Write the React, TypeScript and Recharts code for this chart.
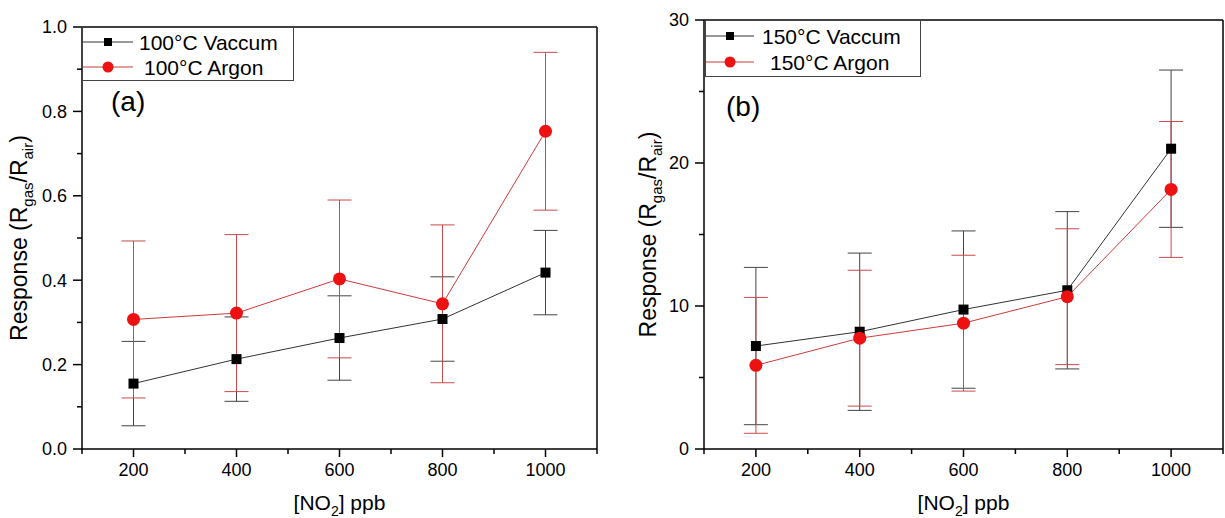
import React from 'react';
import { LineChart, Line, XAxis, YAxis, ErrorBar, ReferenceLine, Legend, Label } from 'recharts';

const concentrations = [200, 400, 600, 800, 1000];
const vacuum100 = [0.155, 0.213, 0.263, 0.308, 0.418];
const vacuum100Err = [0.1, 0.1, 0.1, 0.1, 0.1];
const argon100 = [0.307, 0.322, 0.403, 0.344, 0.753];
const argon100Err = [0.186, 0.186, 0.187, 0.187, 0.187];
const vacuum150 = [7.2, 8.2, 9.75, 11.1, 21.0];
const vacuum150Err = [5.5, 5.5, 5.5, 5.5, 5.5];
const argon150 = [5.85, 7.75, 8.8, 10.65, 18.15];
const argon150Err = [4.75, 4.75, 4.75, 4.75, 4.75];

const xTicks = [100, 200, 300, 400, 500, 600, 700, 800, 900, 1000, 1100];
const xLabelTicks = [200, 400, 600, 800, 1000];
const yTicksA = [0, 0.1, 0.2, 0.3, 0.4, 0.5, 0.6, 0.7, 0.8, 0.9, 1.0];
const yTicksB = [0, 5, 10, 15, 20, 25, 30];

const FONT = '"Liberation Sans", Arial, Helvetica, sans-serif';
const RED = '#ee1111';
const RED_LINE = '#d03a3a';

const X_TICK = 8;
const X_MARGIN = 6;
const Y_TICK = 9;
const Y_MARGIN = 6;

const dataA = concentrations.map((x, i) => ({ x, vac: vacuum100[i], vacErr: vacuum100Err[i], arg: argon100[i], argErr: argon100Err[i] }));
const dataB = concentrations.map((x, i) => ({ x, vac: vacuum150[i], vacErr: vacuum150Err[i], arg: argon150[i], argErr: argon150Err[i] }));

const SquareDot = (props: any) => {
  const { cx, cy, index } = props;
  if (cx == null || cy == null) return <g key={`s${index}`} />;
  return <rect key={`s${index}`} x={cx - 5} y={cy - 5} width={10} height={10} fill="#000" />;
};
const CircleDot = (props: any) => {
  const { cx, cy, index } = props;
  if (cx == null || cy == null) return <g key={`c${index}`} />;
  return <circle key={`c${index}`} cx={cx} cy={cy} r={6.5} fill={RED} />;
};

const XTick = (props: any) => {
  const { x, y, payload } = props;
  const v = payload.value;
  const major = xLabelTicks.includes(v);
  const y0 = y - X_TICK - X_MARGIN;
  return (
    <g>
      <line x1={x} x2={x} y1={y0} y2={y0 + (major ? X_TICK : 5)} stroke="#000" strokeWidth={1.5} />
      {major && (
        <text x={x} y={y} dy="0.71em" textAnchor="middle" fontSize={18} fontFamily={FONT} fill="#000">{String(v)}</text>
      )}
    </g>
  );
};

const makeYTick = (isMajor: (v: number) => boolean, fmt: (v: number) => string) => (props: any) => {
  const { x, y, payload } = props;
  const v = payload.value;
  const major = isMajor(v);
  const x0 = x + Y_TICK + Y_MARGIN;
  return (
    <g>
      <line x1={x0} x2={x0 - (major ? Y_TICK : 5)} y1={y} y2={y} stroke="#000" strokeWidth={1.5} />
      {major && (
        <text x={x} y={y} dy="0.355em" textAnchor="end" fontSize={18} fontFamily={FONT} fill="#000">{fmt(v)}</text>
      )}
    </g>
  );
};

const makeLegend = (w: number, h: number, names: string[], textX: number[], rowY: number[], markerX: number) => () => (
  <svg width={w} height={h} style={{ display: 'block' }}>
    <rect x={0.5} y={0.5} width={w - 1} height={h - 1} fill="#fff" stroke="#444" strokeWidth={1} />
    {names.map((name: string, i: number) => (
      <g key={i}>
        <line x1={1} x2={markerX * 2 - 1} y1={rowY[i]} y2={rowY[i]} stroke={i === 0 ? '#333' : RED_LINE} strokeWidth={1} />
        {i === 0 ? (
          <rect x={markerX - 4} y={rowY[i] - 4} width={8} height={8} fill="#000" />
        ) : (
          <circle cx={markerX} cy={rowY[i]} r={5.5} fill={RED} />
        )}
        <text x={textX[i]} y={rowY[i] + 7.5} fontSize={21} fontFamily={FONT} fill="#000">{name}</text>
      </g>
    ))}
  </svg>
);

const XTitle = (props: any) => {
  const vb = props.viewBox || {};
  const cx = vb.x + vb.width / 2;
  return (
    <text x={cx} y={vb.y + 61} textAnchor="middle" fontSize={21} fontFamily={FONT} fill="#000">
      [NO<tspan dy={6} fontSize={14}>2</tspan><tspan dy={-6}>] ppb</tspan>
    </text>
  );
};

const makeYTitle = (xPos: number) => (props: any) => {
  const vb = props.viewBox || {};
  const cy = vb.y + vb.height / 2;
  return (
    <text x={xPos} y={cy} transform={`rotate(-90 ${xPos} ${cy})`} textAnchor="middle" fontSize={23} fontFamily={FONT} fill="#000">
      Response (R<tspan dy={6} fontSize={15}>gas</tspan><tspan dy={-6}>/R</tspan><tspan dy={6} fontSize={15}>air</tspan><tspan dy={-6}>)</tspan>
    </text>
  );
};

type PanelProps = {
  data: any[];
  width: number;
  top: number;
  right: number;
  yWidth: number;
  yDomain: [number, number];
  yTicks: number[];
  yTick: any;
  yTop: number;
  names: [string, string];
  legend: any;
  legendPos: { left: number; top: number; width: number; height: number };
  yTitleX: number;
};

const Panel = (p: PanelProps) => (
  <LineChart width={p.width} height={518} data={p.data} margin={{ top: p.top, right: p.right, bottom: 0, left: 0 }}>
    <XAxis
      dataKey="x"
      type="number"
      domain={[100, 1100]}
      ticks={xTicks}
      interval={0}
      tick={XTick}
      tickLine={false}
      axisLine={{ stroke: '#000', strokeWidth: 1.5 }}
      tickSize={X_TICK}
      tickMargin={X_MARGIN}
      height={69}
    >
      <Label content={XTitle} />
    </XAxis>
    <YAxis
      type="number"
      domain={p.yDomain}
      ticks={p.yTicks}
      interval={0}
      tick={p.yTick}
      tickLine={false}
      axisLine={{ stroke: '#000', strokeWidth: 1.5 }}
      tickSize={Y_TICK}
      tickMargin={Y_MARGIN}
      width={p.yWidth}
      allowDataOverflow
    >
      <Label content={makeYTitle(p.yTitleX)} />
    </YAxis>
    <ReferenceLine y={p.yTop} stroke="#000" strokeWidth={1.5} />
    <ReferenceLine x={1100} stroke="#000" strokeWidth={1.5} />
    <Line
      dataKey="vac"
      name={p.names[0]}
      stroke="#333"
      strokeWidth={1}
      dot={SquareDot}
      activeDot={false}
      isAnimationActive={false}
    >
      <ErrorBar dataKey="vacErr" width={12} stroke="#444" strokeWidth={1} direction="y" />
    </Line>
    <Line
      dataKey="arg"
      name={p.names[1]}
      stroke={RED_LINE}
      strokeWidth={1}
      dot={CircleDot}
      activeDot={false}
      isAnimationActive={false}
    >
      <ErrorBar dataKey="argErr" width={12} stroke="#c94a4a" strokeWidth={1} direction="y" />
    </Line>
    <Legend
      layout="horizontal"
      align="center"
      verticalAlign="middle"
      content={p.legend}
      wrapperStyle={{ position: 'absolute', left: p.legendPos.left, top: p.legendPos.top, width: p.legendPos.width, height: p.legendPos.height }}
    />
  </LineChart>
);

const namesA: [string, string] = ['100°C Vaccum', '100°C Argon'];
const namesB: [string, string] = ['150°C Vaccum', '150°C Argon'];

export default function App() {
  return (
    <div style={{ position: 'absolute', left: 0, top: 0, width: 1225, height: 518, background: '#fff', overflow: 'hidden' }}>
      <div style={{ position: 'absolute', left: 0, top: 0 }}>
        <Panel
          data={dataA}
          width={612}
          top={27}
          right={15}
          yWidth={82}
          yDomain={[0, 1]}
          yTicks={yTicksA}
          yTick={makeYTick((v: number) => Math.round(v * 10) % 2 === 0, (v: number) => v.toFixed(1))}
          yTop={1}
          names={namesA}
          legend={makeLegend(212, 54, namesA, [57, 62], [15, 40], 26)}
          legendPos={{ left: 82, top: 27, width: 212, height: 54 }}
          yTitleX={27}
        />
      </div>
      <div style={{ position: 'absolute', left: 612, top: 0 }}>
        <Panel
          data={dataB}
          width={613}
          top={20}
          right={2}
          yWidth={92}
          yDomain={[0, 30]}
          yTicks={yTicksB}
          yTick={makeYTick((v: number) => v % 10 === 0, (v: number) => String(v))}
          yTop={30}
          names={namesB}
          legend={makeLegend(216, 57, namesB, [57, 65], [16, 42], 25)}
          legendPos={{ left: 93, top: 20, width: 216, height: 57 }}
          yTitleX={44}
        />
      </div>
      <div style={{ position: 'absolute', left: 111, top: 86, fontFamily: FONT, fontSize: 28, color: '#000' }}>(a)</div>
      <div style={{ position: 'absolute', left: 726, top: 91, fontFamily: FONT, fontSize: 28, color: '#000' }}>(b)</div>
    </div>
  );
}
